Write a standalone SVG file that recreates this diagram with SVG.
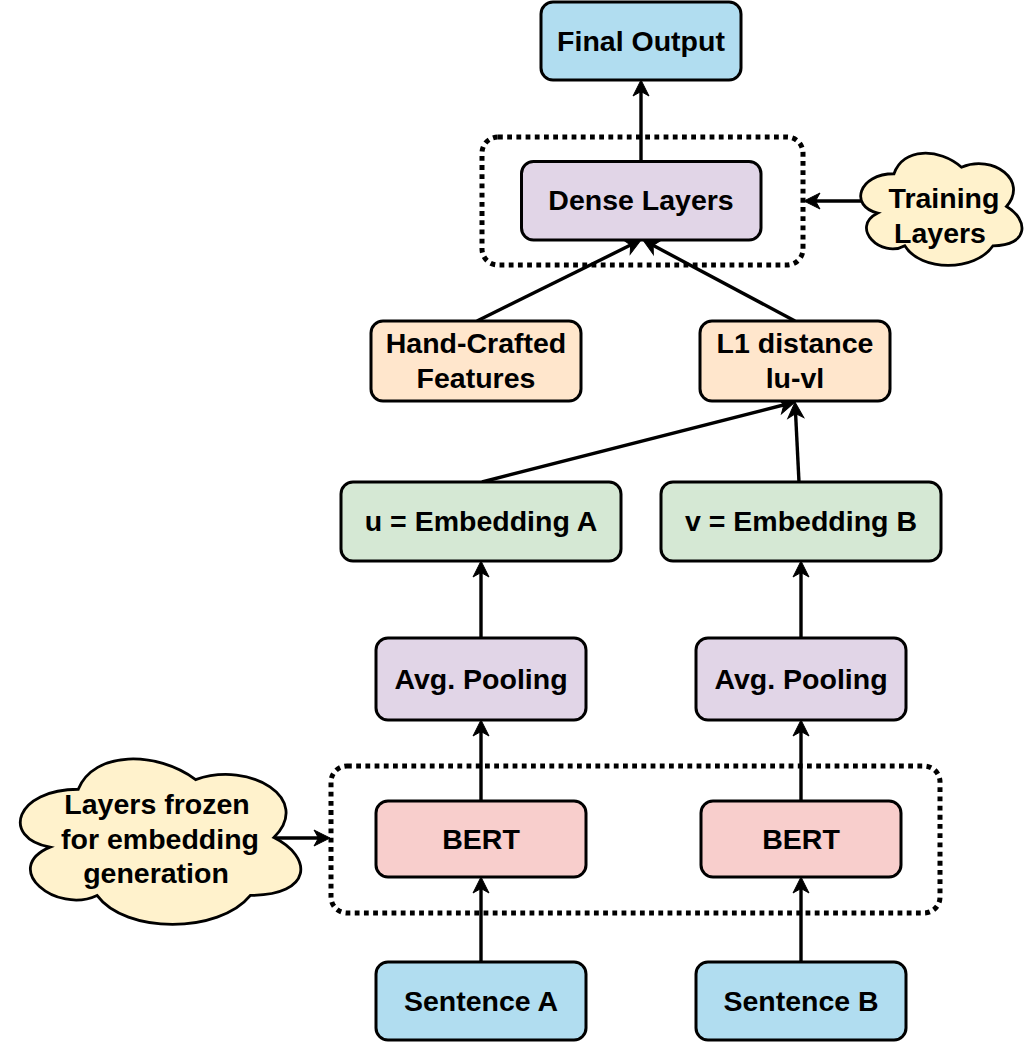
<svg xmlns="http://www.w3.org/2000/svg" width="1034" height="1043" viewBox="0 0 1034 1043">
<defs>
<marker id="arr" markerUnits="userSpaceOnUse" markerWidth="24" markerHeight="24" viewBox="-14 -12 24 24" refX="0" refY="0" orient="auto">
<path d="M-10,-8 L6,0 L-10,8 L-5.5,0 z" fill="#000" stroke="#000" stroke-width="1" stroke-linejoin="miter"/>
</marker>
</defs>
<style>
.box{stroke:#000;stroke-width:3}
.blue{fill:#b1ddf0}
.purple{fill:#e1d5e7}
.orange{fill:#ffe6cc}
.green{fill:#d5e8d4}
.red{fill:#f8cecc}
.cloud{fill:#fff2cc;stroke:#000;stroke-width:2.8}
.grp{fill:none;stroke:#000;stroke-width:5;stroke-dasharray:4.8 4.4}
.lbl{font-family:"Liberation Sans",Arial,sans-serif;font-weight:bold;font-size:28.5px;fill:#000;text-anchor:middle}
.edge{fill:none;stroke:#000;stroke-width:3.4;marker-end:url(#arr)}
</style>
<rect width="1034" height="1043" fill="#fff"/>

<g id="group-training">
<rect class="grp" x="482" y="137" width="321" height="128" rx="16"/>
</g>
<g id="group-frozen">
<rect class="grp" x="331" y="766" width="609" height="147" rx="16"/>
</g>

<g id="connectors">
<line class="edge" x1="641" y1="161" x2="641" y2="86"/>
<line class="edge" x1="477" y1="321" x2="635.6" y2="242.6"/>
<line class="edge" x1="795" y1="321" x2="648.3" y2="242.8"/>
<line class="edge" x1="482" y1="482" x2="789.2" y2="403.5"/>
<line class="edge" x1="799" y1="482" x2="795.3" y2="408"/>
<line class="edge" x1="481" y1="638" x2="481" y2="567"/>
<line class="edge" x1="801" y1="638" x2="801" y2="567"/>
<line class="edge" x1="481" y1="801" x2="481" y2="726"/>
<line class="edge" x1="801" y1="801" x2="801" y2="726"/>
<line class="edge" x1="481" y1="962" x2="481" y2="883"/>
<line class="edge" x1="801" y1="962" x2="801" y2="883"/>
<line class="edge" x1="862" y1="201" x2="810" y2="201"/>
<line class="edge" x1="276" y1="838" x2="324" y2="838"/>
</g>

<g id="final-output">
<rect class="box blue" x="541" y="2" width="200" height="78" rx="12"/>
<text class="lbl" x="641" y="51">Final Output</text>
</g>
<g id="dense-layers">
<rect class="box purple" x="521.5" y="161.5" width="239.5" height="78.5" rx="12"/>
<text class="lbl" x="641" y="210">Dense Layers</text>
</g>
<g id="training-layers">
<path class="cloud" d="M894,173.75 C858,173.75 849,206.5 877.8,213.05 C849,227.46 881.4,258.9 904.8,245.8 C921,272 975,272 993,245.8 C1029,245.8 1029,219.6 1006.5,206.5 C1029,180.3 993,154.1 961.5,167.2 C939,147.55 903,147.55 894,173.75 Z"/>
<text class="lbl" x="944" y="208">Training</text>
<text class="lbl" x="940" y="243">Layers</text>
</g>
<g id="hand-crafted">
<rect class="box orange" x="371" y="321" width="210" height="80" rx="12"/>
<text class="lbl" x="476" y="353">Hand-Crafted</text>
<text class="lbl" x="476" y="388">Features</text>
</g>
<g id="l1-distance">
<rect class="box orange" x="700" y="321" width="190" height="80" rx="12"/>
<text class="lbl" x="795" y="353">L1 distance</text>
<text class="lbl" x="795" y="388">lu-vl</text>
</g>
<g id="embedding-a">
<rect class="box green" x="341" y="482" width="280" height="79" rx="12"/>
<text class="lbl" x="481" y="531">u = Embedding A</text>
</g>
<g id="embedding-b">
<rect class="box green" x="661" y="482" width="280" height="79" rx="12"/>
<text class="lbl" x="801" y="531">v = Embedding B</text>
</g>
<g id="pooling-a">
<rect class="box purple" x="376" y="638" width="210" height="82" rx="12"/>
<text class="lbl" x="481" y="689">Avg. Pooling</text>
</g>
<g id="pooling-b">
<rect class="box purple" x="696" y="638" width="210" height="82" rx="12"/>
<text class="lbl" x="801" y="689">Avg. Pooling</text>
</g>
<g id="bert-a">
<rect class="box red" x="376" y="801" width="210" height="76" rx="12"/>
<text class="lbl" x="481" y="849">BERT</text>
</g>
<g id="bert-b">
<rect class="box red" x="701" y="801" width="200" height="76" rx="12"/>
<text class="lbl" x="801" y="849">BERT</text>
</g>
<g id="sentence-a">
<rect class="box blue" x="376" y="962" width="210" height="78" rx="12"/>
<text class="lbl" x="481" y="1011">Sentence A</text>
</g>
<g id="sentence-b">
<rect class="box blue" x="696" y="962" width="210" height="78" rx="12"/>
<text class="lbl" x="801" y="1011">Sentence B</text>
</g>
<g id="frozen-note">
<path class="cloud" d="M78.25,789.25 C15.65,789.25 0,837.5 50.08,847.15 C0,868.38 56.34,914.7 97.03,895.4 C125.2,934 219.1,934 250.4,895.4 C313,895.4 313,856.8 273.875,837.5 C313,798.9 250.4,760.3 195.625,779.6 C156.5,750.65 93.9,750.65 78.25,789.25 Z"/>
<text class="lbl" x="157" y="814">Layers frozen</text>
<text class="lbl" x="160" y="849">for embedding</text>
<text class="lbl" x="156" y="883">generation</text>
</g>
</svg>
